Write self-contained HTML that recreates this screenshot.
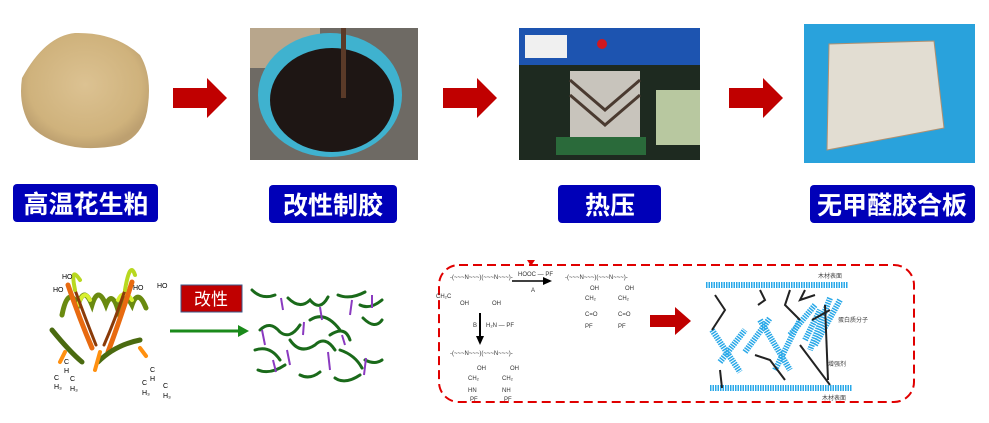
<!DOCTYPE html>
<html><head><meta charset="utf-8"><style>
html,body{margin:0;padding:0;background:#fff;width:989px;height:423px;overflow:hidden}
svg text{font-family:"Liberation Sans","Noto Sans CJK SC",sans-serif}
</style></head><body>
<svg width="989" height="423" viewBox="0 0 989 423" xmlns="http://www.w3.org/2000/svg">
<defs>
<radialGradient id="pile" cx="50%" cy="45%" r="55%"><stop offset="0" stop-color="#dcc292"/><stop offset="0.8" stop-color="#cfb27c"/><stop offset="1" stop-color="#bda070"/></radialGradient>
<pattern id="zig" width="4" height="8" patternUnits="userSpaceOnUse"><path d="M0 0 L2 8 L4 0" stroke="#29a8e8" stroke-width="1.5" fill="none"/></pattern>
</defs>
<!-- photo1 powder -->
<path d="M22 78 Q45 36 75 33 Q115 32 140 55 Q152 75 148 105 Q145 135 120 145 Q95 150 75 147 Q45 142 30 125 Q18 105 22 78Z" fill="url(#pile)"/>
<!-- photo2 bucket -->
<rect x="250" y="28" width="168" height="132" fill="#6e6a64"/>
<rect x="250" y="28" width="70" height="40" fill="#b8a68c"/>
<ellipse cx="330" cy="95" rx="72" ry="62" fill="#3fb2cf"/>
<ellipse cx="332" cy="100" rx="62" ry="52" fill="#1e1614"/>
<rect x="341" y="28" width="5" height="70" fill="#5a3a28"/>
<!-- photo3 press -->
<rect x="519" y="28" width="181" height="132" fill="#1e2a20"/>
<rect x="519" y="28" width="181" height="37" fill="#1d54b0"/>
<rect x="525" y="35" width="42" height="23" fill="#f0f0f0"/>
<circle cx="602" cy="44" r="5" fill="#d01820"/>
<rect x="570" y="71" width="70" height="66" fill="#c8c4bc"/>
<path d="M570 80 L605 110 L640 80" stroke="#4a3a30" stroke-width="3" fill="none"/>
<path d="M570 95 L605 125 L640 95" stroke="#4a3a30" stroke-width="3" fill="none"/>
<rect x="556" y="137" width="90" height="18" fill="#2a6a3a"/>
<rect x="656" y="90" width="44" height="55" fill="#b8c8a0"/>
<!-- photo4 boards -->
<rect x="804" y="24" width="171" height="139" fill="#29a2dc"/>
<path d="M829 44 L934 41 L944 128 L827 150Z" fill="#e2ddd2" stroke="#b09070" stroke-width="1"/>
<!-- red arrows -->
<g fill="#c00000">
<path d="M173 88 H207 V78 L227 98 L207 118 V108 H173Z"/>
<path d="M443 88 H477 V78 L497 98 L477 118 V108 H443Z"/>
<path d="M729 88 H763 V78 L783 98 L763 118 V108 H729Z"/>
</g>
<!-- labels -->
<g fill="#0000b8">
<rect x="13" y="184" width="145" height="38" rx="4"/>
<rect x="269" y="185" width="128" height="38" rx="4"/>
<rect x="558" y="185" width="103" height="38" rx="4"/>
<rect x="810" y="185" width="165" height="38" rx="4"/>
</g>
<g fill="#fff" font-size="25" font-weight="bold" text-anchor="middle">
<text x="86" y="213">高温花生粕</text>
<text x="333" y="214">改性制胶</text>
<text x="610" y="214">热压</text>
<text x="892" y="214">无甲醛胶合板</text>
</g>
<!-- protein molecule -->
<g fill="none" stroke-linecap="round">
<path d="M62 315 Q68 285 78 305 Q84 285 92 305 Q98 285 106 305 Q112 290 118 310 Q124 290 132 305 Q138 288 146 308" stroke="#6a8a10" stroke-width="5"/>
<path d="M78 305 Q84 288 90 300 M118 300 Q124 288 132 300" stroke="#d8f030" stroke-width="4"/>
<path d="M68 285 Q80 320 92 348 M132 282 Q120 320 108 352" stroke="#e86a10" stroke-width="5"/>
<path d="M75 290 Q86 320 96 345 M125 290 Q115 320 104 345" stroke="#8a3a08" stroke-width="3"/>
<path d="M75 290 Q70 265 80 280 M125 290 Q130 260 135 275" stroke="#b8d820" stroke-width="4"/>
<path d="M52 330 Q70 352 82 362 M98 362 Q115 345 140 340" stroke="#4a6a10" stroke-width="5"/>
<path d="M65 352 L60 362 M140 348 L146 356 M100 352 L95 370" stroke="#ff9010" stroke-width="4"/>
</g>
<g font-size="7" fill="#000" font-family="Liberation Serif">
<text x="62" y="279">HO</text><text x="53" y="292">HO</text><text x="133" y="290">HO</text><text x="157" y="288">HO</text>
<text x="64" y="364">C</text><text x="64" y="373">H</text><text x="54" y="380">C</text><text x="54" y="389">H₃</text><text x="70" y="381">C</text><text x="70" y="391">H₃</text>
<text x="150" y="372">C</text><text x="150" y="381">H</text><text x="142" y="385">C</text><text x="142" y="395">H₃</text><text x="163" y="388">C</text><text x="163" y="398">H₃</text>
</g>
<!-- 改性 box -->
<rect x="181" y="285" width="61" height="27" fill="#c00000" stroke="#3a5a8a" stroke-width="1"/>
<text x="211" y="305" font-size="17" fill="#fff" text-anchor="middle">改性</text>
<path d="M170 331 H240" stroke="#1a8a1a" stroke-width="3"/>
<path d="M238 325 L249 331 L238 337Z" fill="#1a8a1a"/>
<!-- crosslinked network -->
<g fill="none" stroke="#1a6a1a" stroke-width="3" stroke-linecap="round">
<path d="M252 290 Q262 300 275 295"/><path d="M288 298 Q300 310 310 300 Q320 312 328 297"/><path d="M338 295 Q350 300 365 292"/><path d="M360 305 Q370 310 382 300"/>
<path d="M260 330 Q270 320 280 332 Q290 340 300 325"/><path d="M310 320 Q325 310 340 330"/><path d="M330 335 Q345 325 350 340"/><path d="M363 318 Q375 330 382 320"/>
<path d="M255 350 Q270 345 280 360"/><path d="M290 340 Q300 355 315 345 Q325 335 335 350"/><path d="M340 350 Q355 355 362 368"/><path d="M365 360 Q375 365 382 360"/>
<path d="M258 370 Q270 375 285 365"/><path d="M300 375 Q310 380 320 372"/><path d="M335 378 Q345 385 360 375"/>
</g>
<g stroke="#8a3ac0" stroke-width="2">
<path d="M281 298 L283 310"/><path d="M320 307 L322 320"/><path d="M352 300 L350 315"/><path d="M372 295 L372 308"/><path d="M262 330 L265 345"/><path d="M304 322 L303 335"/><path d="M342 335 L345 345"/><path d="M287 350 L290 365"/><path d="M328 352 L330 370"/><path d="M366 358 L364 375"/><path d="M273 360 L276 372"/></g>
<!-- dashed box -->
<rect x="439" y="265" width="475" height="137" rx="20" fill="none" stroke="#e00000" stroke-width="2" stroke-dasharray="9,5"/>
<path d="M527 260 L535 260 L531 266Z" fill="#e00000"/>
<!-- chemistry -->
<g font-size="6" fill="#333" font-family="Liberation Serif">
<text x="450" y="279">-(~~~N~~~)(~~~N~~~)-</text>
<text x="436" y="298">CH₂C</text><text x="460" y="305">OH</text><text x="492" y="305">OH</text>
<text x="518" y="276">HOOC — PF</text><text x="531" y="292">A</text>
<text x="565" y="279">-(~~~N~~~)(~~~N~~~)-</text>
<text x="590" y="290">OH</text><text x="625" y="290">OH</text><text x="585" y="300">CH₂</text><text x="618" y="300">CH₂</text>
<text x="585" y="316">C=O</text><text x="618" y="316">C=O</text><text x="585" y="328">PF</text><text x="618" y="328">PF</text>
<text x="473" y="327">B</text><text x="486" y="327">H₂N — PF</text>
<text x="450" y="355">-(~~~N~~~)(~~~N~~~)-</text>
<text x="477" y="370">OH</text><text x="510" y="370">OH</text><text x="468" y="380">CH₂</text><text x="502" y="380">CH₂</text>
<text x="468" y="392">HN</text><text x="502" y="392">NH</text><text x="470" y="401">PF</text><text x="504" y="401">PF</text>
</g>
<path d="M512 281 H545" stroke="#000" stroke-width="1.5"/><path d="M543 277 L552 281 L543 285Z" fill="#000"/>
<path d="M480 313 V338" stroke="#000" stroke-width="2"/><path d="M476 336 L480 345 L484 336Z" fill="#000"/>
<path d="M650 315 H675 V307 L691 321 L675 335 V327 H650Z" fill="#c00000"/>
<!-- wood/protein -->
<g stroke="#29a8e8" stroke-width="6" stroke-dasharray="1.5,1" fill="none">
<path d="M706 285 H848"/><path d="M710 388 H852"/>
<path d="M712 330 L740 372"/><path d="M720 362 L745 330"/><path d="M745 352 L770 318"/><path d="M760 320 L790 370"/><path d="M775 370 L800 320"/><path d="M790 335 L815 305"/><path d="M805 340 L820 310"/><path d="M830 298 L810 350"/><path d="M840 300 L815 345"/>
</g>
<g stroke="#222" stroke-width="2" fill="none">
<path d="M715 295 L725 310 L712 330"/><path d="M760 290 L765 300 L758 305"/><path d="M790 290 L785 305 L800 320"/><path d="M805 290 L800 300 L815 295"/><path d="M825 305 L828 380"/><path d="M800 345 L830 385"/><path d="M755 355 L770 360 L785 380"/><path d="M720 370 L722 388"/><path d="M812 320 L830 310"/>
</g>
<g font-size="6" fill="#444"><text x="818" y="278">木材表面</text><text x="838" y="322">蛋白质分子</text><text x="828" y="366">增强剂</text><text x="822" y="400">木材表面</text></g>
</svg>
</body></html>
